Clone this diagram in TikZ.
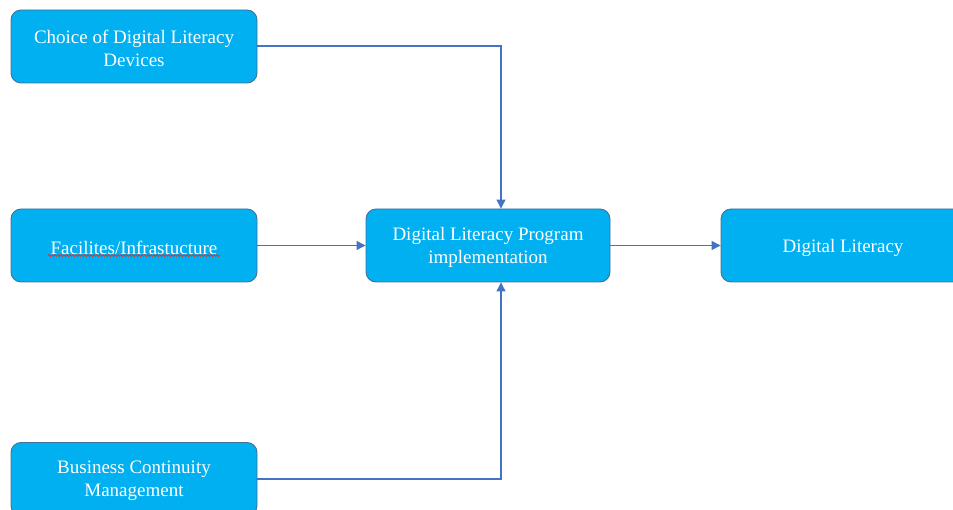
\documentclass[tikz,border=0pt]{standalone}
\usepackage{fontspec}
\setmainfont{Liberation Serif}
\usetikzlibrary{arrows.meta,decorations.pathmorphing}
\definecolor{boxfill}{HTML}{00B0F0}
\definecolor{boxline}{HTML}{41719C}
\definecolor{linkblue}{HTML}{4472C4}
\definecolor{spellred}{HTML}{E03030}
\begin{document}
\begin{tikzpicture}[x=1pt,y=-1pt,
  blockbox/.style={draw=boxline, line width=0.9pt, fill=boxfill, rounded corners=10pt,
    minimum width=246pt, minimum height=73pt, inner sep=0pt},
  blocktext/.style={align=center, text=white, inner sep=0pt, yshift=-2pt,
    font=\fontsize{19}{23}\selectfont},
  link/.style={draw=linkblue, line width=1.1pt, -{Triangle[length=9pt,width=9pt]}}]
\useasboundingbox (0,0) rectangle (953,510);
\clip (0,0) rectangle (953,510);

% input factors on the left
\node[blockbox, label={[blocktext]center:Choice of Digital Literacy\\Devices}] (devices) at (134,46.5) {};
\node[blockbox, label={[blocktext]center:Facilites/Infrastucture}] (infra) at (134,245.5) {};
\node[blockbox, label={[blocktext]center:Business Continuity\\Management}] (bcm) at (134,479) {};

% programme and outcome
\node[blockbox, minimum width=244pt, label={[blocktext]center:Digital Literacy Program\\implementation}] (program) at (488,245.5) {};
\node[blockbox, minimum width=244pt, label={[blocktext]center:Digital Literacy}] (outcome) at (843,245.5) {};

% spell-check underline under the infrastructure label
\draw[spellred, line width=0.8pt, decoration={snake, amplitude=0.9pt, segment length=3pt}, decorate]
  ([xshift=-86pt,yshift=-10pt]infra.center) -- ([xshift=86pt,yshift=-10pt]infra.center);

% connectors
\coordinate (topbend) at (501,46);
\coordinate (botbend) at (501,479);
\draw[link] (devices.east |- topbend) -- (topbend) -- (topbend |- program.north);
\draw[link] (infra.east) -- (program.west);
\draw[link] (bcm.east |- botbend) -- (botbend) -- (botbend |- program.south);
\draw[link] (program.east) -- (outcome.west);
\end{tikzpicture}
\end{document}
